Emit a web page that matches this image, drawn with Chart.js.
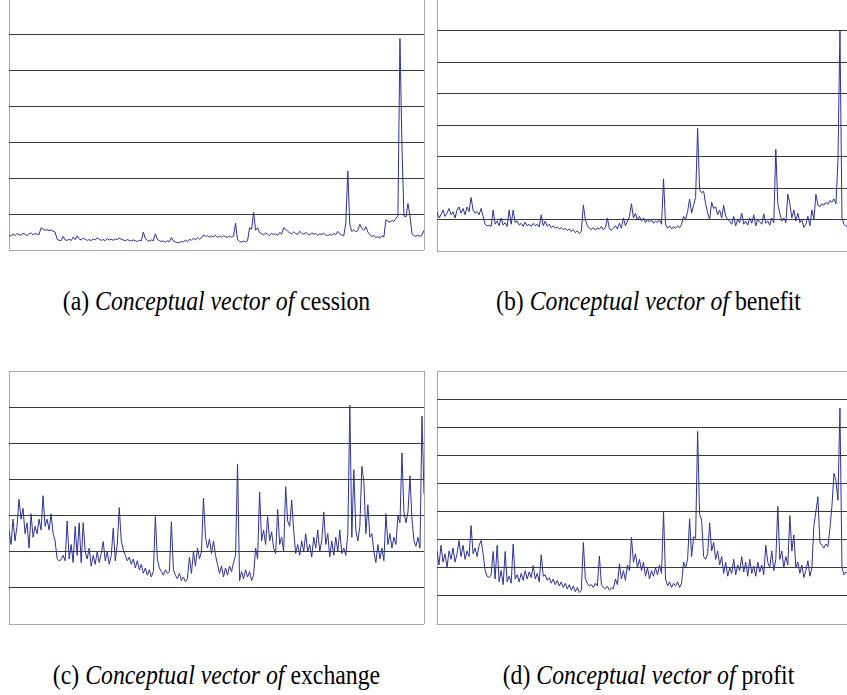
<!DOCTYPE html>
<html>
<head>
<meta charset="utf-8">
<script src="https://cdn.jsdelivr.net/npm/chart.js@4.4.1/dist/chart.umd.min.js"></script>
<style>
  html, body { margin: 0; padding: 0; background: #fff; overflow: hidden; }
  body { width: 847px; height: 695px; position: relative; }
  .panel { position: absolute; }
  .caption {
    position: absolute;
    font-family: "Liberation Serif", "Times New Roman", serif;
    font-size: 27px;
    line-height: 27px;
    text-align: center;
    color: #000;
    white-space: nowrap;
    transform: scaleX(0.88);
  }
</style>
</head>
<body>
<div class="panel" id="pa" style="left:9px; top:-1px; width:416px; height:252px;"><canvas id="chartA"></canvas></div>
<div class="panel" id="pb" style="left:437px; top:-1px; width:422px; height:253px;"><canvas id="chartB"></canvas></div>
<div class="panel" id="pc" style="left:9px; top:371px; width:416px; height:254px;"><canvas id="chartC"></canvas></div>
<div class="panel" id="pd" style="left:437px; top:371px; width:422px; height:254px;"><canvas id="chartD"></canvas></div>

<div class="caption" style="left:0px; top:288px; width:433px;">(a) <i>Conceptual vector of</i> cession</div>
<div class="caption" style="left:437px; top:288px; width:423px;">(b) <i>Conceptual vector of</i> benefit</div>
<div class="caption" style="left:0px; top:662px; width:433px;">(c) <i>Conceptual vector of</i> exchange</div>
<div class="caption" style="left:437px; top:662px; width:423px;">(d) <i>Conceptual vector of</i> profit</div>

<script>
// values (no axis labels in the source)
const cessionValues = [
  0.42,0.38,0.45,0.40,0.46,0.43,0.41,0.47,0.44,0.40,0.45,0.48,0.42,0.46,0.44,0.43,
  0.62,0.58,0.55,0.57,0.54,0.56,0.52,0.50,
  0.30,0.27,0.26,0.38,0.28,0.27,0.30,0.26,0.36,0.29,0.40,0.31,0.28,0.33,0.30,0.27,0.29,0.26,0.31,0.28,0.34,0.30,0.27,0.29,0.26,0.32,0.28,0.30,0.27,0.31,0.29,0.33,0.30,0.28,0.26,0.29,0.27,0.25,0.28,0.26,0.24,0.27,0.25,
  0.50,0.32,0.27,0.25,0.28,0.26,
  0.45,0.30,0.26,0.24,0.25,0.22,0.26,0.23,0.35,0.25,0.22,0.21,0.20,0.24,0.22,0.28,0.23,0.30,0.27,0.33,0.28,0.35,0.30,0.34,
  0.42,0.38,0.40,0.36,0.39,0.37,0.41,0.35,0.38,0.36,0.40,0.37,0.35,0.39,0.36,0.38,
  0.75,0.28,0.24,0.22,0.25,0.23,0.26,
  0.62,0.58,1.05,0.55,0.62,0.48,
  0.46,0.42,0.48,0.44,0.40,0.47,0.43,0.45,0.41,0.49,0.44,0.62,0.58,0.52,0.48,0.45,0.50,0.46,0.43,0.52,0.47,0.44,0.49,0.45,0.42,0.48,0.44,0.46,0.41,0.45,0.43,0.47,0.42,0.40,0.44,0.41,0.46,0.43,0.52,0.45,0.42,0.40,
  0.75,2.2,0.70,0.52,0.56,0.50,0.55,0.72,0.60,0.55,0.65,0.50,0.42,0.38,0.40,0.35,0.37,0.33,0.40,0.36,
  0.85,0.80,0.78,0.82,0.80,0.88,0.95,5.9,2.9,0.95,0.92,1.3,0.95,0.45,0.40,0.38,0.41,0.38,0.42,0.55
];

const benefitValues = [
  1.25,1.05,1.15,1.30,1.10,1.20,1.35,1.15,1.25,1.05,1.30,1.40,1.20,1.35,1.15,1.40,1.25,1.70,1.30,1.20,1.25,1.15,1.35,1.10,
  0.85,
  0.80,0.82,0.78,1.30,0.85,0.95,0.80,1.05,0.82,0.90,0.78,1.30,0.85,1.30,0.90,0.95,0.82,0.88,0.78,0.92,0.80,0.85,0.78,0.88,0.80,0.85,0.76,1.15,0.80,0.95,0.78,0.85,0.74,0.80,0.72,0.76,0.70,0.74,0.68,0.72,0.65,0.70,0.62,0.68,0.58,0.64,0.56,0.62,
  1.46,1.00,0.80,0.72,0.68,0.75,0.66,0.72,0.70,0.78,0.68,0.74,1.05,0.70,0.66,0.72,0.80,0.70,0.88,0.72,1.05,0.80,0.95,
  1.10,1.50,1.05,1.20,0.98,1.10,0.95,1.05,0.90,1.00,0.92,0.98,0.88,0.95,0.90,1.00,
  0.85,2.29,0.85,0.72,0.80,0.70,0.78,0.72,0.80,0.74,0.85,
  1.10,1.00,1.25,1.65,1.20,1.45,1.70,3.90,1.95,1.85,1.90,1.50,1.20,1.00,1.55,1.35,1.40,1.15,1.30,1.05,1.45,1.10,1.00,0.95,
  0.85,1.10,0.80,1.00,0.90,1.20,0.85,0.95,0.82,1.05,0.88,1.15,0.80,1.00,0.92,0.85,1.18,0.88,0.95,0.82,1.05,0.90,
  3.23,1.50,1.20,0.95,1.05,0.90,1.80,1.50,1.05,1.30,0.95,1.20,0.90,1.00,0.75,0.85,1.10,0.80,1.30,1.00,1.80,1.45,1.40,1.50,1.45,1.55,1.48,1.60,1.55,1.65,1.50,
  2.85,7.0,1.05,0.85,0.78,0.82,0.80,0.85,0.80,0.82,0.80
];

const exchangeValues = [
  2.6,2.2,2.9,2.3,2.7,3.45,2.9,3.2,2.5,2.8,2.1,3.05,2.4,2.7,2.5,2.9,2.6,3.55,2.7,2.9,2.6,3.05,2.5,2.3,
  1.8,1.75,1.78,1.9,1.75,2.85,1.8,2.2,1.7,2.7,1.9,2.8,1.7,2.8,2.0,1.8,2.1,1.6,1.9,1.65,2.0,1.7,1.95,2.28,1.75,2.0,1.65,1.9,2.65,1.75,2.2,
  3.22,2.3,2.05,1.9,1.75,1.85,1.65,1.8,1.55,1.75,1.5,1.65,1.4,1.55,1.35,1.5,1.3,1.45,
  2.97,1.8,1.55,1.45,1.35,1.5,1.4,1.45,2.83,1.5,1.35,1.25,1.4,1.2,1.3,1.17,1.25,1.85,1.4,2.0,1.6,2.1,1.8,2.0,
  3.48,2.4,2.1,2.35,1.95,2.3,1.9,1.65,1.4,1.6,1.3,1.55,1.35,1.6,1.45,1.7,1.9,
  4.43,1.2,1.45,1.25,1.5,1.3,1.45,1.2,1.35,2.1,1.8,3.65,2.3,2.6,2.2,2.97,2.3,2.55,2.1,1.95,3.17,2.2,2.4,2.0,3.8,2.85,2.7,3.43,2.6,
  1.95,2.2,1.9,2.3,2.0,2.5,2.0,2.2,1.85,2.4,2.1,2.6,2.0,2.3,3.1,2.2,2.5,1.85,2.3,1.9,2.4,2.0,2.6,1.95,2.1,1.9,2.5,
  6.05,2.4,4.27,2.6,2.3,2.7,4.36,3.94,2.5,3.3,2.4,2.5,2.0,1.7,2.2,1.8,2.1,1.75,3.05,2.2,2.5,2.1,2.4,2.2,3.0,2.8,
  4.73,3.1,2.8,3.1,4.1,2.9,2.3,2.15,2.4,2.1,5.75,3.6
];

const profitValues = [
  2.6,2.1,2.8,2.2,2.5,2.0,2.6,2.3,2.7,2.2,2.5,2.97,2.4,2.8,2.3,2.6,2.4,3.5,2.5,2.7,2.4,2.8,2.97,2.5,
  1.9,1.7,1.65,1.75,2.58,1.6,2.8,1.5,1.9,1.4,2.58,1.5,1.7,1.45,2.84,1.6,1.75,1.5,1.8,1.55,1.9,1.6,1.85,1.65,2.08,1.6,1.8,1.5,2.46,1.7,
  1.75,1.55,1.65,1.45,1.6,1.4,1.55,1.35,1.5,1.3,1.45,1.25,1.4,1.2,1.35,1.15,1.3,1.12,1.2,
  2.9,1.6,1.45,1.35,1.4,1.3,1.45,1.35,2.42,1.4,1.3,1.25,1.35,1.2,1.3,1.25,1.6,1.4,2.14,1.6,1.9,1.55,2.1,1.9,
  3.08,2.2,2.5,2.0,2.3,1.9,2.2,1.7,2.0,1.6,1.9,1.7,2.0,1.75,2.1,1.8,
  4.0,1.6,1.35,1.5,1.3,1.45,1.35,1.5,1.3,1.45,2.2,2.0,2.3,3.74,2.4,3.1,3.05,
  6.85,3.9,3.7,2.4,2.3,2.5,3.6,2.6,2.9,2.3,2.6,2.1,2.4,1.8,2.2,1.7,2.0,1.8,2.3,1.75,2.1,1.9,2.4,1.85,2.2,1.7,2.3,1.8,2.05,1.7,2.2,1.85,2.1,1.75,2.8,2.2,2.0,2.6,1.9,2.3,
  4.18,2.3,2.6,2.0,2.4,2.1,3.86,2.6,3.17,2.0,2.2,1.8,2.1,1.65,1.9,2.25,1.7,2.0,3.5,4.0,4.53,2.9,2.8,2.7,2.85,2.75,3.4,4.2,5.36,5.1,4.4,
  7.68,2.0,1.75,1.85,1.8,1.9,1.75,1.85,1.8,1.8
];

// number of gridline steps on each panel's value axis
const cessionSteps = 7;
const benefitSteps = 8;
const exchangeSteps = 7;
const profitSteps = 9;

const lineColor = 'rgb(48, 48, 150)';
const gridColor = '#3a3a3a';
const frameColor = '#a8a8a8';

function makeChart(id, values, steps) {
  const last = values.length - 1;
  const points = values.map((v, i) => ({ x: i, y: v }));
  return new Chart(document.getElementById(id), {
    type: 'line',
    data: {
      datasets: [{
        data: points,
        borderColor: lineColor,
        borderWidth: 1,
        pointRadius: 0,
        tension: 0,
        fill: false
      }]
    },
    options: {
      responsive: true,
      maintainAspectRatio: false,
      animation: false,
      // 1px room so the right and bottom frame lines stay inside the canvas
      layout: { padding: { left: 0, top: 0, right: 1, bottom: 1 } },
      plugins: {
        legend: { display: false },
        tooltip: { enabled: false }
      },
      scales: {
        x: {
          type: 'linear',
          min: 0,
          max: last,
          ticks: { display: false, stepSize: last },
          grid: { color: frameColor, drawTicks: false, lineWidth: 1 },
          border: { display: false }
        },
        y: {
          min: 0,
          max: steps,
          ticks: { display: false, stepSize: 1 },
          grid: {
            drawTicks: false,
            lineWidth: 1,
            color: (ctx) => (ctx.tick && (ctx.tick.value === 0 || ctx.tick.value === steps)) ? frameColor : gridColor
          },
          border: { display: false }
        }
      }
    }
  });
}

makeChart('chartA', cessionValues, cessionSteps);
makeChart('chartB', benefitValues, benefitSteps);
makeChart('chartC', exchangeValues, exchangeSteps);
makeChart('chartD', profitValues, profitSteps);
</script>
</body>
</html>
